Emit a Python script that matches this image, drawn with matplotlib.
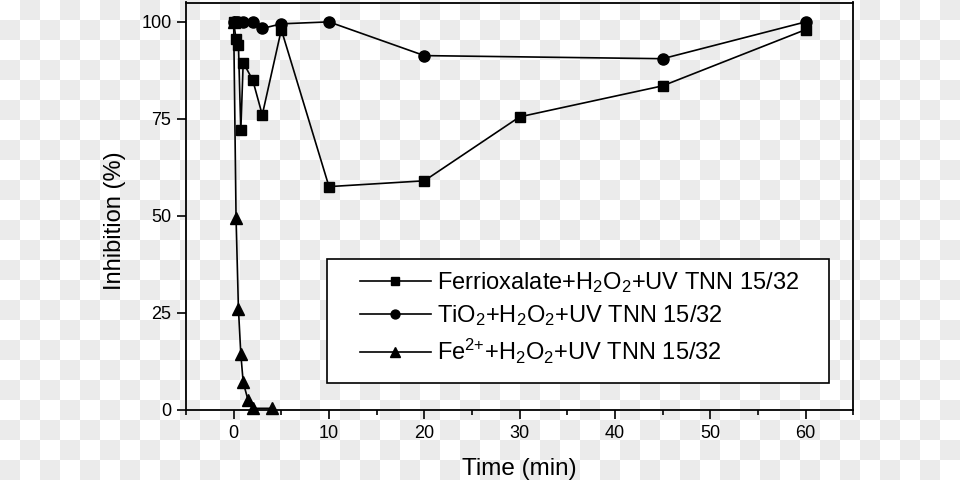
import numpy as np
import matplotlib
matplotlib.use("Agg")
import matplotlib.pyplot as plt
from matplotlib.ticker import MultipleLocator
from matplotlib.patches import Rectangle

# ---- data ----
t_ferri = [0, 0.25, 0.5, 0.75, 1, 2, 3, 5, 10, 20, 30, 45, 60]
v_ferri = [100, 95.5, 94, 72, 89.5, 85, 76, 98, 57.5, 59, 75.5, 83.5, 98]

t_tio2 = [0, 0.25, 0.5, 1, 2, 3, 5, 10, 20, 45, 60]
v_tio2 = [100, 100, 100, 100, 100, 98.3, 99.5, 100, 91.3, 90.5, 100]

t_fe = [0, 0.25, 0.5, 0.75, 1, 1.5, 2, 4]
v_fe = [100, 49.5, 26, 14.3, 7, 2.5, 0.3, 0.3]

labels = ["Ferrioxalate+H$_2$O$_2$+UV TNN 15/32",
          "TiO$_2$+H$_2$O$_2$+UV TNN 15/32",
          "Fe$^{2{+}}$+H$_2$O$_2$+UV TNN 15/32"]
xticks = [0, 10, 20, 30, 40, 50, 60]
yticks = [0, 25, 50, 75, 100]

plt.rcParams['font.family'] = ['Liberation Sans', 'DejaVu Sans']
plt.rcParams['mathtext.fontset'] = 'custom'
plt.rcParams['mathtext.rm'] = 'Liberation Sans'
plt.rcParams['mathtext.it'] = 'Liberation Sans:italic'
plt.rcParams['mathtext.bf'] = 'Liberation Sans:bold'

W, H = 960, 480
fig = plt.figure(figsize=(9.6, 4.8), dpi=100)

# transparency-style checkerboard background
bg = fig.add_axes([0, 0, 1, 1], zorder=-1)
ii, jj = np.indices((24, 48))
checker = (ii + jj) % 2
bg.imshow(checker, cmap=matplotlib.colors.ListedColormap(['#ffffff', '#ebebeb']),
          interpolation='nearest', aspect='auto', extent=[0, 960, 480, 0])
bg.axis('off')

ax = fig.add_axes([186/W, 1 - 409.5/H, (853.3-186)/W, (409.5-2.5)/H])
ax.set_facecolor('none')

lw = 1.2
ax.plot(t_ferri, v_ferri, color='black', lw=lw, marker='s', ms=7.5, clip_on=False, label=labels[0])
ax.plot(t_tio2, v_tio2, color='black', lw=lw, marker='o', ms=8, clip_on=False, label=labels[1])
ax.plot(t_fe, v_fe, color='black', lw=lw, marker='^', ms=9, clip_on=False, label=labels[2])

ax.set_xlim(-5, 65)
ax.set_ylim(0, 105)
ax.set_xticks(xticks)
ax.set_yticks(yticks)
ax.xaxis.set_minor_locator(MultipleLocator(5))
ax.tick_params(axis='both', which='major', direction='out', length=6.5, width=1.2,
               labelsize=13, color='black')
ax.tick_params(axis='x', which='major', pad=5)
ax.tick_params(axis='y', which='major', pad=4)
ax.tick_params(axis='x', which='minor', direction='out', length=3.5, width=1.2)
ax.tick_params(top=False, right=False)
for s in ax.spines.values():
    s.set_linewidth(1.3)

ax.set_xlabel("Time (min)", fontsize=17.5)
ax.xaxis.set_label_coords(0.5, -0.118)
ax.set_ylabel("Inhibition (%)", fontsize=17)
ax.yaxis.set_label_coords(-0.09, 0.463)

# legend frame (white box) and legend contents
frame = Rectangle((327/W, 1 - 383/H), (829-327)/W, (383-259)/H,
                  transform=fig.transFigure, facecolor='white', edgecolor='black',
                  linewidth=1.2, zorder=4, clip_on=False)
ax.add_artist(frame)
leg = ax.legend(loc='upper left', bbox_to_anchor=(360/W, 1 - 270/H),
                bbox_transform=fig.transFigure, borderaxespad=0, borderpad=0,
                fontsize=17, handlelength=3.0, handletextpad=0.25,
                markerscale=0.8, frameon=False, labelspacing=0.36)
leg.set_zorder(5)

fig.savefig("out.png", dpi=100)
